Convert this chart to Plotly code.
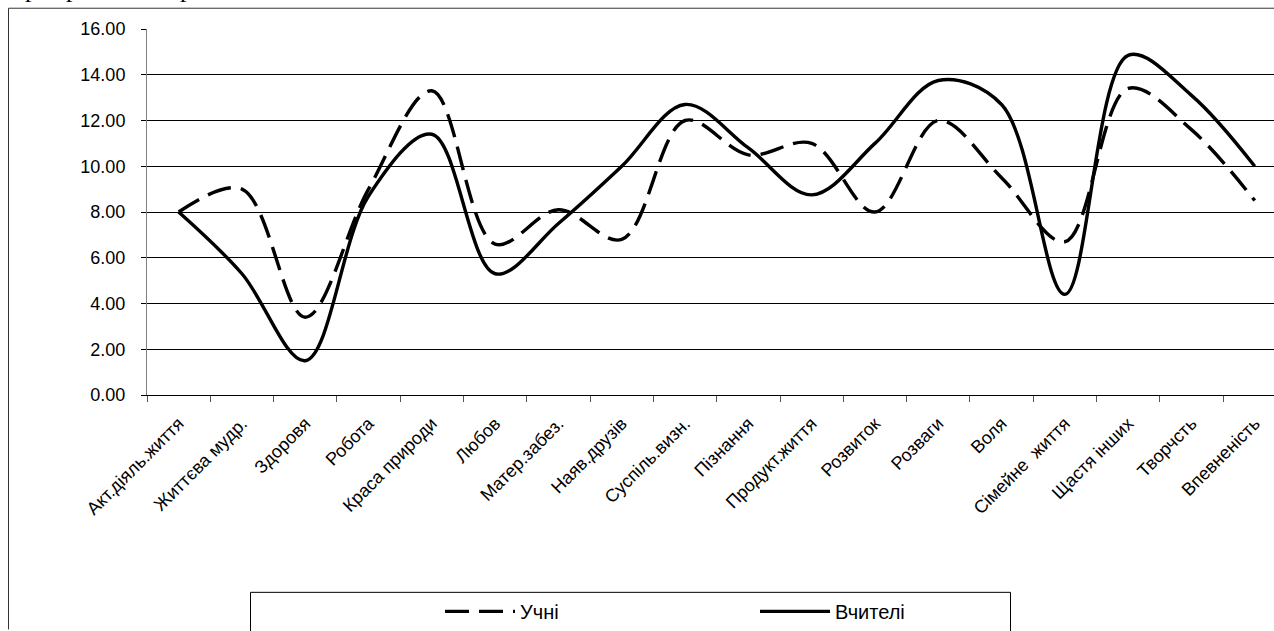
import plotly.graph_objects as go

# Value categories (x axis)
categories = [
    "Акт.діяль.життя", "Життєва мудр.", "Здоровя", "Робота", "Краса природи",
    "Любов", "Матер.забез.", "Наяв.друзів", "Суспіль.визн.", "Пізнання",
    "Продукт.життя", "Розвиток", "Розваги", "Воля", "Сімейне\u00a0\u00a0життя",
    "Щастя інших", "Творчсть", "Впевненість",
]

# Mean ranks per group
pupils = [8.0, 9.0, 3.4, 9.0, 13.3, 6.6, 8.1, 6.8, 12.0, 10.5,
          11.0, 8.0, 12.0, 9.5, 6.7, 13.4, 11.6, 8.5]
teachers = [8.0, 5.3, 1.5, 8.7, 11.4, 5.3, 7.5, 10.0, 12.7, 10.8,
            8.75, 11.0, 13.75, 12.7, 4.4, 14.85, 13.1, 10.0]

y_ticks = [0, 2, 4, 6, 8, 10, 12, 14, 16]

W, H = 1274, 631
ML, MT, MB = 147, 29, 232
plot_w = W - ML
plot_h = H - MT - MB
cat_px = 63.3  # width of one category slot


def px_x(px):
    return (px - ML) / plot_w


def px_y(py):
    return (H - MB - py) / plot_h


FONT = "Liberation Sans, Arial, sans-serif"

fig = go.Figure()
fig.add_trace(go.Scatter(
    x=categories, y=pupils, name="Учні", mode="lines",
    line=dict(color="black", width=3.4, dash="24px,10px",
              shape="spline", smoothing=1.0),
))
fig.add_trace(go.Scatter(
    x=categories, y=teachers, name="Вчителі", mode="lines",
    line=dict(color="black", width=3.4, shape="spline", smoothing=1.0),
))

shapes = [
    # outer frame (left and top edges)
    dict(type="line", xref="paper", yref="paper",
         x0=px_x(8.5), x1=px_x(8.5), y0=px_y(8), y1=px_y(H + 5),
         line=dict(color="#333", width=1)),
    dict(type="line", xref="paper", yref="paper",
         x0=px_x(8.5), x1=px_x(W + 5), y0=px_y(8), y1=px_y(8),
         line=dict(color="#333", width=1)),
    # legend box
    dict(type="rect", xref="paper", yref="paper",
         x0=px_x(250.5), x1=px_x(1010.5), y0=px_y(598.5), y1=px_y(H + 10),
         line=dict(color="black", width=1), fillcolor="white", layer="below"),
]

# descenders of the text line above the chart
annotations = [
    dict(text="р", xref="paper", yref="paper", x=px_x(px), y=px_y(5),
         xanchor="center", yanchor="bottom", showarrow=False,
         font=dict(family="Liberation Serif, Times New Roman, serif",
                   size=26, color="black"))
    for px in (31, 72, 186)
]

fig.update_layout(
    width=W, height=H,
    margin=dict(l=ML, r=0, t=MT, b=MB, pad=0),
    paper_bgcolor="white", plot_bgcolor="white",
    font=dict(family=FONT, size=18, color="black"),
    showlegend=True,
    legend=dict(
        orientation="h", x=px_x(440), y=px_y(598), xanchor="left", yanchor="top",
        font=dict(family=FONT, size=20, color="black"),
        entrywidth=230, entrywidthmode="pixels", itemwidth=70,
        bgcolor="rgba(0,0,0,0)", borderwidth=0,
    ),
    shapes=shapes,
    annotations=annotations,
    xaxis=dict(
        type="category", range=[-0.5, -0.5 + plot_w / cat_px],
        showgrid=False, showline=True, linecolor="black", linewidth=1,
        ticks="outside", ticklen=6, tickcolor="#555", tickson="boundaries",
        tickangle=-45, tickfont=dict(family=FONT, size=18, color="black"),
        ticklabelstandoff=10, fixedrange=True,
    ),
    yaxis=dict(
        range=[0, 16], tickvals=y_ticks, tickformat=".2f",
        showgrid=True, gridcolor="black", gridwidth=1,
        showline=True, linecolor="#808080", linewidth=1,
        ticks="outside", ticklen=5, tickcolor="black",
        tickfont=dict(family=FONT, size=18, color="black"),
        zeroline=False, fixedrange=True, ticklabelstandoff=12,
    ),
)

fig.write_html("out.html")
